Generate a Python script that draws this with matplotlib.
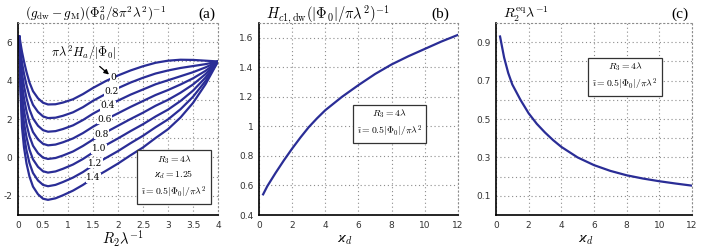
import matplotlib
matplotlib.use("Agg")
import matplotlib.pyplot as plt
from matplotlib.ticker import FixedLocator
import numpy as np

plt.rcParams["mathtext.fontset"] = "cm"

# ==== panel (a): free energy vs R2 for several applied fields
r2 = [0.03, 0.05, 0.08, 0.12, 0.17, 0.23, 0.3, 0.4, 0.5, 0.6, 0.75, 0.9, 1.1,
      1.3, 1.5, 1.75, 2.0, 2.25, 2.5, 2.75, 3.0, 3.25, 3.5, 3.75, 4.0]
g_h00 = [6.30, 5.95, 5.50, 5.00, 4.45, 3.90, 3.45, 3.08, 2.85, 2.76, 2.77, 2.86, 3.03,
         3.30, 3.62, 3.97, 4.27, 4.53, 4.75, 4.93, 5.04, 5.09, 5.08, 5.04, 5.00]
g_h02 = [6.30, 5.59, 4.94, 4.36, 3.77, 3.20, 2.74, 2.37, 2.14, 2.05, 2.07, 2.17, 2.35,
         2.62, 2.95, 3.30, 3.61, 3.90, 4.15, 4.37, 4.53, 4.66, 4.76, 4.86, 5.00]
g_h04 = [6.30, 5.23, 4.38, 3.72, 3.09, 2.50, 2.03, 1.65, 1.42, 1.34, 1.37, 1.48, 1.67,
         1.95, 2.28, 2.63, 2.96, 3.27, 3.54, 3.81, 4.02, 4.23, 4.44, 4.69, 5.00]
g_h06 = [6.30, 4.87, 3.82, 3.08, 2.41, 1.80, 1.32, 0.94, 0.71, 0.63, 0.67, 0.79, 0.99,
         1.27, 1.60, 1.97, 2.30, 2.63, 2.94, 3.25, 3.51, 3.80, 4.12, 4.51, 5.00]
g_h08 = [6.30, 4.51, 3.26, 2.44, 1.73, 1.10, 0.61, 0.22, -0.01, -0.08, -0.03, 0.10, 0.31,
         0.60, 0.93, 1.30, 1.65, 2.00, 2.33, 2.69, 3.00, 3.37, 3.80, 4.34, 5.00]
g_h10 = [6.30, 4.15, 2.70, 1.80, 1.05, 0.40, -0.10, -0.49, -0.72, -0.79, -0.73, -0.59, -0.37,
         -0.08, 0.26, 0.63, 0.99, 1.37, 1.73, 2.13, 2.49, 2.94, 3.48, 4.16, 5.00]
g_h12 = [6.30, 3.79, 2.14, 1.16, 0.37, -0.30, -0.81, -1.20, -1.43, -1.50, -1.43, -1.28, -1.05,
         -0.76, -0.41, -0.04, 0.33, 0.74, 1.13, 1.57, 1.98, 2.51, 3.16, 3.98, 5.00]
g_h14 = [6.30, 3.43, 1.58, 0.52, -0.31, -1.00, -1.52, -1.92, -2.15, -2.21, -2.13, -1.97, -1.73,
         -1.43, -1.08, -0.71, -0.32, 0.11, 0.52, 1.01, 1.47, 2.08, 2.84, 3.81, 5.00]
curves_a = [g_h00, g_h02, g_h04, g_h06, g_h08, g_h10, g_h12, g_h14]
field_labels = ["0", "0.2", "0.4", "0.6", "0.8", "1.0", "1.2", "1.4"]
label_x = [1.90, 1.87, 1.80, 1.73, 1.67, 1.62, 1.55, 1.51]
label_y = [4.14, 3.45, 2.70, 1.98, 1.22, 0.46, -0.30, -1.07]

# ==== panel (b): lower critical field vs kappa_d
kappa = [0.25, 0.5, 0.75, 1.0, 1.5, 2.0, 2.5, 3.0, 3.5, 4.0, 5.0, 6.0, 7.0, 8.0, 9.0, 10.0, 11.0, 12.0]
hc1 = [0.54, 0.595, 0.64, 0.685, 0.77, 0.85, 0.925, 0.995, 1.055, 1.11, 1.20, 1.28, 1.355,
       1.42, 1.475, 1.525, 1.575, 1.62]

# ==== panel (c): equilibrium R2 vs kappa_d
r2eq = [0.93, 0.82, 0.74, 0.68, 0.60, 0.53, 0.475, 0.43, 0.39, 0.355, 0.30, 0.26, 0.23,
        0.207, 0.19, 0.176, 0.164, 0.153]

line_color = "#2a2d96"
grid_kw = dict(color="#8c8c8c", linestyle=(0, (1, 2.5)), linewidth=0.8)
box_text = "$R_3 = 4\\lambda$\n$\\tilde{\\imath} = 0.5|\\Phi_0|/\\pi\\lambda^2$"


def style_axes(ax):
    for side in ("top", "right"):
        ax.spines[side].set(linestyle=(0, (1, 2.5)), color="#8c8c8c", linewidth=0.8)
    ax.spines["left"].set_linewidth(1.2)
    ax.spines["bottom"].set_linewidth(1.2)
    ax.grid(True, which="both", **grid_kw)
    ax.set_axisbelow(True)
    ax.tick_params(which="both", length=0, pad=4, labelcolor="#333333")
    for lab in ax.get_xticklabels() + ax.get_yticklabels():
        lab.set_fontfamily("DejaVu Sans")
        lab.set_fontsize(6.5)


def panel_text(ax, title, title_size, tag, tag_x, xlabel, xlabel_x):
    ax.text(0.035, 1.047, title, transform=ax.transAxes, fontsize=title_size,
            ha="left", va="center")
    ax.text(tag_x, 1.047, tag, transform=ax.transAxes, fontsize=11,
            family="Liberation Serif", ha="center", va="center")
    ax.text(xlabel_x, -0.125, xlabel, transform=ax.transAxes, fontsize=10.5,
            ha="center", va="center")


fig = plt.figure(figsize=(7.03, 2.48), dpi=100)
ax_a = fig.add_axes([0.0256, 0.133, 0.2845, 0.774])
ax_b = fig.add_axes([0.3684, 0.133, 0.2831, 0.774])
ax_c = fig.add_axes([0.7055, 0.133, 0.2788, 0.774])

# ---- (a)
for g in curves_a:
    ax_a.plot(r2, g, color=line_color, lw=1.6, solid_capstyle="round")
for lab, lx, ly in zip(field_labels, label_x, label_y):
    ax_a.text(lx, ly, lab, fontsize=6.5, family="DejaVu Serif", ha="center", va="center",
              bbox=dict(facecolor="white", edgecolor="none", pad=0.3), zorder=5)
ax_a.set_xlim(0, 4)
ax_a.set_ylim(-3, 7)
ax_a.set_xticks([0, 0.5, 1, 1.5, 2, 2.5, 3, 3.5, 4])
ax_a.set_xticklabels(["0", "0.5", "1", "1.5", "2", "2.5", "3", "3.5", "4"])
ax_a.set_yticks([-2, 0, 2, 4, 6])
ax_a.set_yticklabels(["-2", "0", "2", "4", "6"])
ax_a.yaxis.set_minor_locator(FixedLocator([-1, 1, 3, 5]))
style_axes(ax_a)
ax_a.annotate(r"$\pi\lambda^2 H_a/|\Phi_0|$", xy=(1.82, 4.32), xytext=(1.32, 5.45),
              fontsize=9, ha="center", va="center",
              arrowprops=dict(arrowstyle="-|>", color="black", lw=0.9, shrinkA=2, shrinkB=0,
                              mutation_scale=7))
ax_a.text(3.12, -0.98, "$R_3 = 4\\lambda$\n$\\varkappa_d = 1.25$\n$\\tilde{\\imath} = 0.5|\\Phi_0|/\\pi\\lambda^2$",
          fontsize=7, ha="center", va="center", linespacing=1.3,
          bbox=dict(facecolor="white", edgecolor="#333333", linewidth=0.9, pad=3))
panel_text(ax_a, r"$(g_{\mathrm{dw}} - g_{\mathrm{M}})(\Phi_0^2/8\pi^2\lambda^2)^{-1}$", 9.5,
           "(a)", 0.945, r"$R_2\lambda^{-1}$", 0.525)

# ---- (b)
ax_b.plot(kappa, hc1, color=line_color, lw=1.6)
ax_b.set_xlim(0, 12)
ax_b.set_ylim(0.4, 1.7)
ax_b.set_xticks([0, 2, 4, 6, 8, 10, 12])
ax_b.set_yticks([0.4, 0.6, 0.8, 1.0, 1.2, 1.4, 1.6])
ax_b.set_yticklabels(["0.4", "0.6", "0.8", "1", "1.2", "1.4", "1.6"])
style_axes(ax_b)
ax_b.text(7.87, 1.02, box_text, fontsize=7, ha="center", va="center", linespacing=1.3,
          bbox=dict(facecolor="white", edgecolor="#333333", linewidth=0.9, pad=3))
panel_text(ax_b, r"$H_{c1,\mathrm{dw}}(|\Phi_0|/\pi\lambda^2)^{-1}$", 10.5,
           "(b)", 0.91, r"$\varkappa_d$", 0.43)

# ---- (c)
ax_c.plot(kappa, r2eq, color=line_color, lw=1.6)
ax_c.set_xlim(0, 12)
ax_c.set_ylim(0, 1.0)
ax_c.set_xticks([0, 2, 4, 6, 8, 10, 12])
ax_c.set_yticks([0.1, 0.3, 0.5, 0.7, 0.9])
ax_c.set_yticklabels(["0.1", "0.3", "0.5", "0.7", "0.9"])
ax_c.yaxis.set_minor_locator(FixedLocator([0.2, 0.4, 0.6, 0.8]))
style_axes(ax_c)
ax_c.text(7.9, 0.722, box_text, fontsize=7, ha="center", va="center", linespacing=1.3,
          bbox=dict(facecolor="white", edgecolor="#333333", linewidth=0.9, pad=3))
panel_text(ax_c, r"$R_2^{\mathrm{eq}}\lambda^{-1}$", 10, "(c)", 0.94, r"$\varkappa_d$", 0.46)

fig.savefig("out.png", dpi=100)
